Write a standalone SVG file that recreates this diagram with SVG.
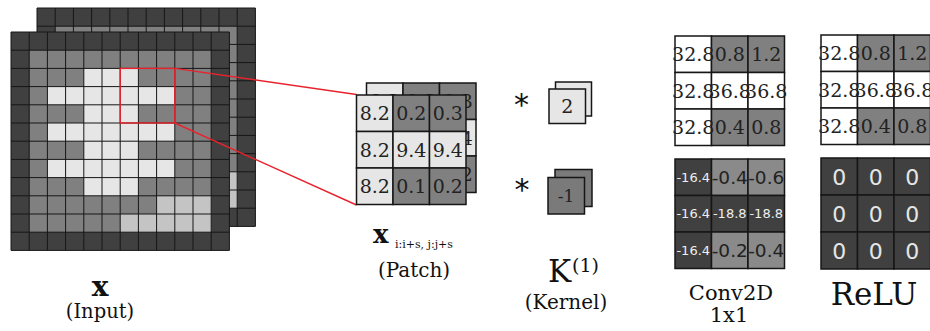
<svg xmlns="http://www.w3.org/2000/svg" xmlns:xlink="http://www.w3.org/1999/xlink" width="930" height="331" viewBox="0 0 930 331">
<style>
.D{fill:#404040}.M{fill:#808080}.L{fill:#e6e6e6}.S{fill:#c4c4c4}.W{fill:#ffffff}.M2{fill:#8a8a8a}
.gl{fill:none;stroke:#161616;stroke-width:1}
.cell{stroke:#161616;stroke-width:1.5}
.num{font-family:"DejaVu Serif",serif;font-size:19px;fill:#222;text-anchor:middle}
.sm{font-family:"DejaVu Sans",sans-serif;font-size:13px;fill:#eeeeee;text-anchor:middle}
.lg{font-family:"DejaVu Sans",sans-serif;font-size:18.5px;fill:#222;text-anchor:middle}
.z{font-family:"DejaVu Sans",sans-serif;font-size:22px;fill:#e6e6e6;text-anchor:middle}
.lbl{font-family:"DejaVu Serif",serif;fill:#111;text-anchor:middle}
.ast{font-family:"DejaVu Sans",sans-serif;font-size:30px;fill:#111;text-anchor:middle}
.red{fill:none;stroke:#e8232d;stroke-width:1.4}
</style>
<defs>
<g id="grid12">
<rect class="D" x="0" y="0" width="218.4" height="218.4"/>
<rect class="M" x="18.2" y="18.2" width="182" height="182"/>
<rect class="L" x="72.8" y="36.4" width="54.6" height="127.4"/>
<rect class="L" x="36.4" y="54.6" width="127.4" height="18.2"/>
<rect class="L" x="36.4" y="91" width="127.4" height="18.2"/>
<rect class="L" x="36.4" y="127.4" width="127.4" height="18.2"/>
<rect class="S" x="145.6" y="163.8" width="54.6" height="18.2"/>
<rect class="S" x="109.2" y="182" width="91" height="18.2"/>
<path class="gl" d="M0 0V218.4M18.2 0V218.4M36.4 0V218.4M54.6 0V218.4M72.8 0V218.4M91 0V218.4M109.2 0V218.4M127.4 0V218.4M145.6 0V218.4M163.8 0V218.4M182 0V218.4M200.2 0V218.4M218.4 0V218.4M0 0H218.4M0 18.2H218.4M0 36.4H218.4M0 54.6H218.4M0 72.8H218.4M0 91H218.4M0 109.2H218.4M0 127.4H218.4M0 145.6H218.4M0 163.8H218.4M0 182H218.4M0 200.2H218.4M0 218.4H218.4"/>
</g>
<g id="patch3">
<rect class="L cell" x="0" y="0" width="36.5" height="36.5"/>
<rect class="M cell" x="36.5" y="0" width="36.5" height="36.5"/>
<rect class="M cell" x="73" y="0" width="36.5" height="36.5"/>
<rect class="L cell" x="0" y="36.5" width="36.5" height="36.5"/>
<rect class="L cell" x="36.5" y="36.5" width="36.5" height="36.5"/>
<rect class="L cell" x="73" y="36.5" width="36.5" height="36.5"/>
<rect class="L cell" x="0" y="73" width="36.5" height="36.5"/>
<rect class="M cell" x="36.5" y="73" width="36.5" height="36.5"/>
<rect class="M cell" x="73" y="73" width="36.5" height="36.5"/>
<text class="num" x="18.25" y="25.1">8.2</text>
<text class="num" x="54.75" y="25.1">0.2</text>
<text class="num" x="91.25" y="25.1">0.3</text>
<text class="num" x="18.25" y="61.6">8.2</text>
<text class="num" x="54.75" y="61.6">9.4</text>
<text class="num" x="91.25" y="61.6">9.4</text>
<text class="num" x="18.25" y="98.1">8.2</text>
<text class="num" x="54.75" y="98.1">0.1</text>
<text class="num" x="91.25" y="98.1">0.2</text>
</g>
<g id="pos3">
<rect class="W cell" x="0" y="0" width="36.5" height="36.5"/>
<rect class="M cell" x="36.5" y="0" width="36.5" height="36.5"/>
<rect class="M cell" x="73" y="0" width="36.5" height="36.5"/>
<rect class="W cell" x="0" y="36.5" width="36.5" height="36.5"/>
<rect class="W cell" x="36.5" y="36.5" width="36.5" height="36.5"/>
<rect class="W cell" x="73" y="36.5" width="36.5" height="36.5"/>
<rect class="W cell" x="0" y="73" width="36.5" height="36.5"/>
<rect class="M cell" x="36.5" y="73" width="36.5" height="36.5"/>
<rect class="M cell" x="73" y="73" width="36.5" height="36.5"/>
<text class="num" x="18.25" y="25.1">32.8</text>
<text class="num" x="54.75" y="25.1">0.8</text>
<text class="num" x="91.25" y="25.1">1.2</text>
<text class="num" x="18.25" y="61.6">32.8</text>
<text class="num" x="54.75" y="61.6">36.8</text>
<text class="num" x="91.25" y="61.6">36.8</text>
<text class="num" x="18.25" y="98.1">32.8</text>
<text class="num" x="54.75" y="98.1">0.4</text>
<text class="num" x="91.25" y="98.1">0.8</text>
</g>
</defs>

<g id="input">
<use xlink:href="#grid12" x="37" y="8"/>
<use xlink:href="#grid12" x="11" y="32"/>
<rect class="red" x="120.2" y="68.4" width="54.6" height="54.6"/>
</g>

<g id="connectors">
<line class="red" x1="174.8" y1="68.4" x2="356.5" y2="94.5"/>
<line class="red" x1="174.8" y1="123" x2="356.5" y2="205"/>
</g>

<g id="patch">
<use xlink:href="#patch3" x="366.5" y="83"/>
<use xlink:href="#patch3" x="356.5" y="95"/>
</g>

<g id="kernel-1">
<text class="ast" x="521.5" y="115">*</text>
<rect class="L cell" x="555.5" y="82" width="36" height="34"/>
<rect class="L cell" x="549" y="89" width="36.5" height="34.5"/>
<text class="num" x="567.3" y="113">2</text>
</g>

<g id="kernel-2">
<text class="ast" x="522" y="200">*</text>
<rect class="cell" fill="#7a7a7a" x="555" y="169.5" width="37" height="37"/>
<rect class="cell" fill="#7a7a7a" x="548" y="177.5" width="36.5" height="36.5"/>
<text class="num" x="566" y="201.5" style="font-size:17px">-1</text>
</g>

<g id="conv-pos">
<use xlink:href="#pos3" x="675" y="36"/>
</g>

<g id="conv-neg">
<rect class="D cell" x="675" y="159" width="36.5" height="36.5"/>
<rect class="M2 cell" x="711.5" y="159" width="36.5" height="36.5"/>
<rect class="M2 cell" x="748" y="159" width="36.5" height="36.5"/>
<rect class="D cell" x="675" y="195.5" width="36.5" height="36.5"/>
<rect class="D cell" x="711.5" y="195.5" width="36.5" height="36.5"/>
<rect class="D cell" x="748" y="195.5" width="36.5" height="36.5"/>
<rect class="D cell" x="675" y="232" width="36.5" height="36.5"/>
<rect class="M2 cell" x="711.5" y="232" width="36.5" height="36.5"/>
<rect class="M2 cell" x="748" y="232" width="36.5" height="36.5"/>
<text class="sm" x="693.25" y="181.9">-16.4</text>
<text class="lg" x="729.75" y="184">-0.4</text>
<text class="lg" x="766.25" y="184">-0.6</text>
<text class="sm" x="693.25" y="218.4">-16.4</text>
<text class="sm" x="729.75" y="218.4">-18.8</text>
<text class="sm" x="766.25" y="218.4">-18.8</text>
<text class="sm" x="693.25" y="254.9">-16.4</text>
<text class="lg" x="729.75" y="257">-0.2</text>
<text class="lg" x="766.25" y="257">-0.4</text>
</g>

<g id="relu-pos">
<use xlink:href="#pos3" x="821" y="35"/>
</g>

<g id="relu-neg">
<rect class="D cell" x="821" y="158" width="36.5" height="37"/>
<rect class="D cell" x="857.5" y="158" width="36.5" height="37"/>
<rect class="D cell" x="894" y="158" width="36.5" height="37"/>
<rect class="D cell" x="821" y="195" width="36.5" height="37"/>
<rect class="D cell" x="857.5" y="195" width="36.5" height="37"/>
<rect class="D cell" x="894" y="195" width="36.5" height="37"/>
<rect class="D cell" x="821" y="232" width="36.5" height="37"/>
<rect class="D cell" x="857.5" y="232" width="36.5" height="37"/>
<rect class="D cell" x="894" y="232" width="36.5" height="37"/>
<text class="z" x="839.25" y="184.5">0</text>
<text class="z" x="875.75" y="184.5">0</text>
<text class="z" x="912.25" y="184.5">0</text>
<text class="z" x="839.25" y="221.5">0</text>
<text class="z" x="875.75" y="221.5">0</text>
<text class="z" x="912.25" y="221.5">0</text>
<text class="z" x="839.25" y="258.5">0</text>
<text class="z" x="875.75" y="258.5">0</text>
<text class="z" x="912.25" y="258.5">0</text>
</g>

<g id="labels">
<text class="lbl" x="100" y="296" style="font-size:28px;font-weight:bold">x</text>
<text class="lbl" x="100" y="318" style="font-size:19.5px">(Input)</text>
<text class="lbl" x="373" y="243" style="font-size:26px;font-weight:bold;text-anchor:start">x</text>
<text class="lbl" x="395" y="248" style="font-size:11px;text-anchor:start">i:i+s, j:j+s</text>
<text class="lbl" x="414" y="277" style="font-size:20px">(Patch)</text>
<text class="lbl" x="548" y="282" style="font-size:31px;text-anchor:start">K</text>
<text class="lbl" x="572" y="272" style="font-size:19px;text-anchor:start">(1)</text>
<text class="lbl" x="566" y="309" style="font-size:20px">(Kernel)</text>
<text class="lbl" x="731" y="300" style="font-size:21px">Conv2D</text>
<text class="lbl" x="729" y="322" style="font-size:21px">1x1</text>
<text class="lbl" x="874" y="305" style="font-size:31px">ReLU</text>
</g>
</svg>
